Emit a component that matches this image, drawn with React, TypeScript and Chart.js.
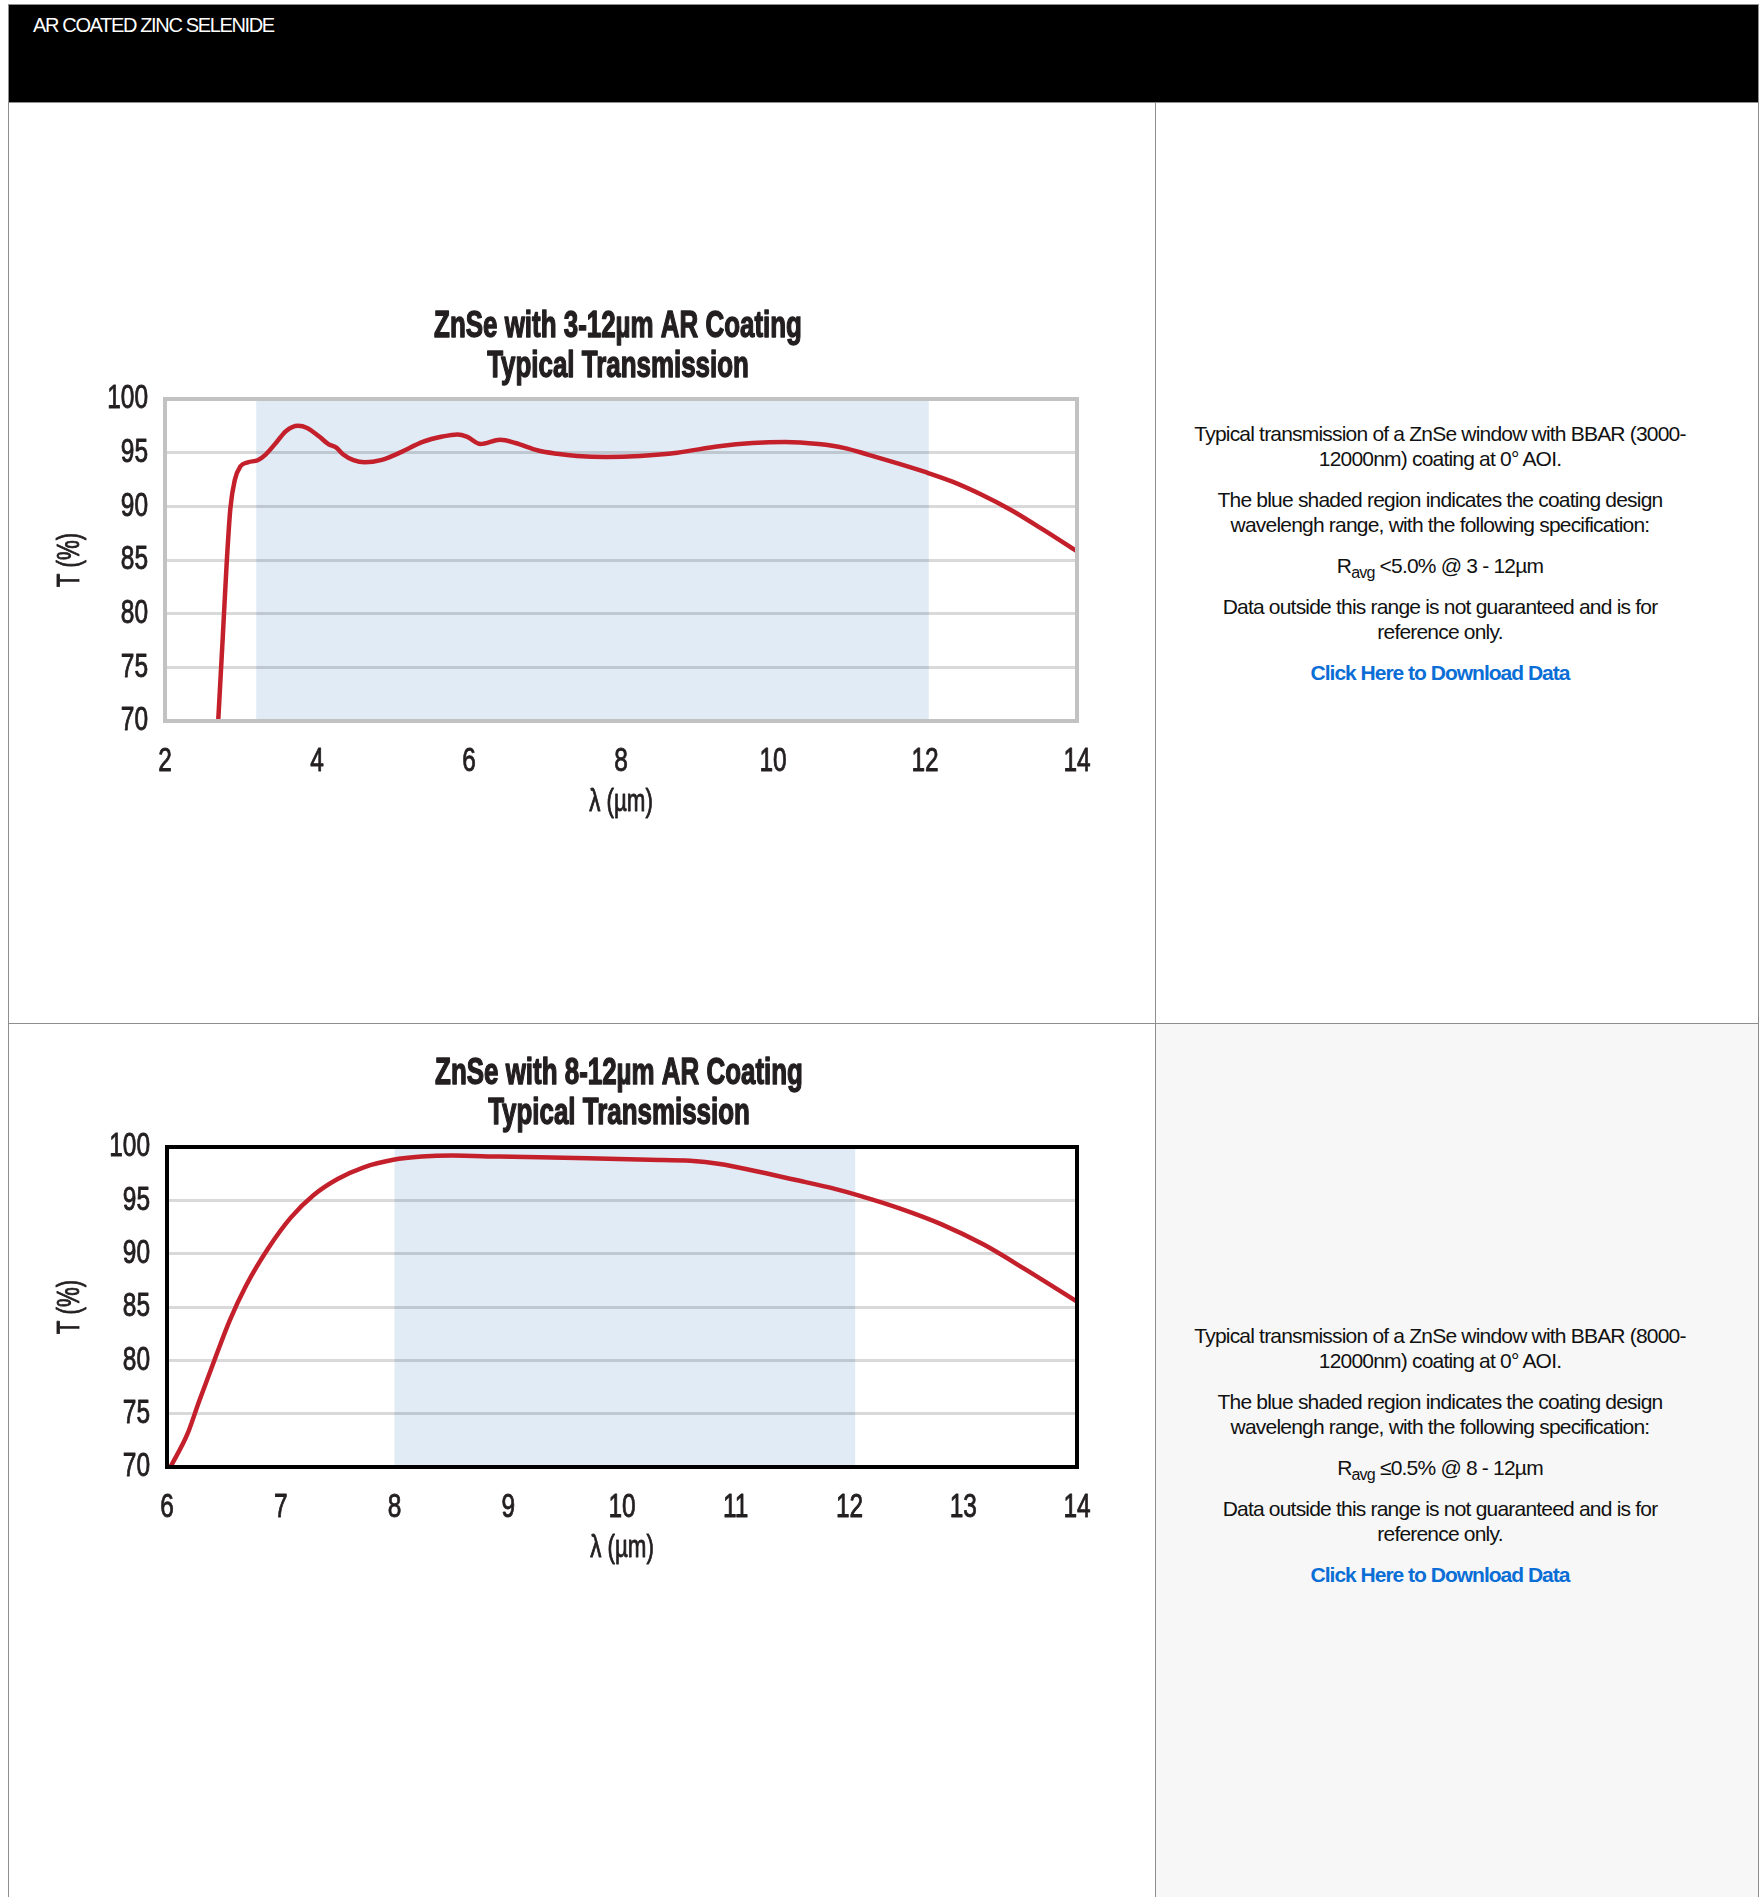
import React, { useEffect, useRef } from "react";
import { Chart, registerables } from "chart.js";

Chart.register(...registerables);

// ---------- data ----------
const pageTitle = "AR COATED ZINC SELENIDE";

const chart1Title = ["ZnSe with 3-12\u00b5m AR Coating", "Typical Transmission"];
const chart1Wavelength = [2.70, 2.76, 2.81, 2.86, 2.92, 2.99, 3.09, 3.22, 3.32, 3.47, 3.59, 3.75, 3.87, 4.03, 4.15, 4.25, 4.35, 4.48, 4.63, 4.84, 5.09, 5.39, 5.65, 5.85, 5.97, 6.15, 6.41, 6.61, 6.91, 7.16, 7.42, 7.81, 8.25, 8.74, 9.29, 9.73, 10.16, 10.6, 10.93, 11.26, 11.64, 12.0, 12.36, 12.74, 13.12, 13.56, 14.0];
const chart1Transmission = [70, 77.8, 84.5, 89.8, 92.5, 93.7, 94.1, 94.3, 94.8, 96.0, 97.0, 97.5, 97.3, 96.5, 95.8, 95.5, 94.8, 94.3, 94.1, 94.3, 95.0, 96.0, 96.5, 96.7, 96.5, 95.8, 96.2, 95.9, 95.2, 94.9, 94.7, 94.6, 94.7, 95.0, 95.6, 95.9, 96.0, 95.8, 95.45, 94.8, 94.0, 93.2, 92.3, 91.1, 89.7, 87.8, 85.8];
const chart1XTicks = [2, 4, 6, 8, 10, 12, 14];
const chart1Band = [3.2, 12.05];

const chart2Title = ["ZnSe with 8-12\u00b5m AR Coating", "Typical Transmission"];
const chart2Wavelength = [6.03, 6.18, 6.28, 6.42, 6.55, 6.69, 6.89, 7.09, 7.29, 7.50, 7.73, 7.99, 8.24, 8.51, 8.92, 9.7, 10.24, 10.6, 10.86, 11.15, 11.51, 11.88, 12.1, 12.44, 12.81, 13.18, 13.55, 14.0];
const chart2Transmission = [70, 73.1, 76.1, 80.1, 83.7, 86.9, 90.5, 93.4, 95.5, 97.0, 98.1, 98.8, 99.1, 99.2, 99.1, 98.95, 98.8, 98.7, 98.4, 97.8, 96.95, 96.05, 95.4, 94.25, 92.75, 90.85, 88.5, 85.5];
const chart2XTicks = [6, 7, 8, 9, 10, 11, 12, 13, 14];
const chart2Band = [8.0, 12.05];

const yTicks = [70, 75, 80, 85, 90, 95, 100];
const xAxisTitle = "\u03bb (\u00b5m)";
const yAxisTitle = "T (%)";

const panel1Lines = [
  ["Typical transmission of a ZnSe window with BBAR (3000-", "12000nm) coating at 0\u00b0 AOI."],
  ["The blue shaded region indicates the coating design", "wavelengh range, with the following specification:"],
];
const panel1Spec = "<5.0% @ 3 - 12\u00b5m";
const panel2Lines = [
  ["Typical transmission of a ZnSe window with BBAR (8000-", "12000nm) coating at 0\u00b0 AOI."],
  ["The blue shaded region indicates the coating design", "wavelengh range, with the following specification:"],
];
const panel2Spec = "\u22640.5% @ 8 - 12\u00b5m";
const disclaimerLines = ["Data outside this range is not guaranteed and is for", "reference only."];
const linkText = "Click Here to Download Data";

// ---------- styling ----------
const CHART_FONT = '"Liberation Sans", Arial, sans-serif';
const TEXT_SCALE_X = 0.72; // condensed look (no condensed face installed)
const INK = "#231f20";

type Cfg = {
  top: number;
  xs: number[];
  ys: number[];
  xMin: number;
  xMax: number;
  xTicks: number[];
  band: number[];
  title: string[];
  titleOffsets: number[];
  frameColor: string;
  pad: { left: number; right: number; top: number; bottom: number };
  yAxisWidth: number;
};

// draw all canvas text horizontally condensed, with a light stroke for a medium weight
function condenseText(ctx: CanvasRenderingContext2D) {
  const origFill = ctx.fillText.bind(ctx);
  const origStroke = ctx.strokeText.bind(ctx);
  (ctx as any).__embolden = 0.9;
  (ctx as any).fillText = (text: string, x: number, y: number, maxWidth?: number) => {
    const emb = (ctx as any).__embolden || 0;
    ctx.save();
    ctx.translate(x, y);
    ctx.scale(TEXT_SCALE_X, 1);
    const mw = maxWidth === undefined ? undefined : maxWidth / TEXT_SCALE_X;
    if (mw === undefined) origFill(text, 0, 0);
    else origFill(text, 0, 0, mw);
    if (emb > 0) {
      ctx.strokeStyle = ctx.fillStyle as any;
      ctx.lineWidth = emb;
      ctx.lineJoin = "round";
      if (mw === undefined) origStroke(text, 0, 0);
      else origStroke(text, 0, 0, mw);
    }
    ctx.restore();
  };
}

const decorPlugin = {
  id: "decor",
  beforeDraw(chart: any, _args: any, opts: any) {
    const { ctx, chartArea: a, scales } = chart;
    const x = scales.x;
    const x0 = x.getPixelForValue(opts.band[0]);
    const x1 = x.getPixelForValue(opts.band[1]);
    ctx.save();
    ctx.fillStyle = "#e1ebf6";
    ctx.fillRect(x0, a.top, x1 - x0, a.bottom - a.top);
    ctx.restore();
  },
  afterDraw(chart: any, _args: any, opts: any) {
    const { ctx, chartArea: a } = chart;
    ctx.save();
    ctx.strokeStyle = opts.frameColor;
    ctx.lineWidth = opts.frameWidth;
    ctx.strokeRect(a.left, a.top, a.right - a.left, a.bottom - a.top);
    ctx.fillStyle = INK;
    ctx.font = `bold 36px ${CHART_FONT}`;
    ctx.textAlign = "center";
    ctx.textBaseline = "middle";
    const prev = ctx.__embolden;
    ctx.__embolden = 1.4;
    const cx = (a.left + a.right) / 2 + opts.titleDx;
    opts.title.forEach((t: string, i: number) => {
      ctx.fillText(t, cx, a.top + opts.titleOffsets[i]);
    });
    ctx.__embolden = prev;
    ctx.restore();
  },
};

function TransmissionChart({ cfg }: { cfg: Cfg }) {
  const ref = useRef<HTMLCanvasElement | null>(null);
  useEffect(() => {
    if (!ref.current) return;
    const ctx = ref.current.getContext("2d");
    if (ctx) condenseText(ctx);
    const chart = new Chart(ref.current, {
      type: "line",
      data: {
        datasets: [
          {
            data: cfg.xs.map((x, i) => ({ x, y: cfg.ys[i] })),
            borderColor: "#c4202b",
            borderWidth: 4.5,
            pointRadius: 0,
            fill: false,
            cubicInterpolationMode: "monotone",
          },
        ],
      },
      options: {
        animation: false,
        responsive: false,
        devicePixelRatio: 1,
        layout: { padding: cfg.pad },
        plugins: {
          legend: { display: false },
          tooltip: { enabled: false },
          decor: {
            band: cfg.band,
            frameColor: cfg.frameColor,
            frameWidth: 4,
            title: cfg.title,
            titleOffsets: cfg.titleOffsets,
            titleDx: -3,
          },
        } as any,
        scales: {
          x: {
            type: "linear",
            min: cfg.xMin,
            max: cfg.xMax,
            afterBuildTicks: (s: any) => {
              s.ticks = cfg.xTicks.map((v) => ({ value: v }));
            },
            afterFit: (s: any) => {
              s.height = 100;
            },
            grid: { display: false, drawTicks: false },
            border: { display: false },
            ticks: {
              color: INK,
              font: { family: CHART_FONT, size: 34 },
              padding: 20,
              maxRotation: 0,
              autoSkip: false,
            },
            title: {
              display: true,
              text: xAxisTitle,
              color: INK,
              font: { family: CHART_FONT, size: 31 },
              padding: 0,
            },
          },
          y: {
            type: "linear",
            min: 70,
            max: 100,
            afterBuildTicks: (s: any) => {
              s.ticks = yTicks.map((v) => ({ value: v }));
            },
            afterFit: (s: any) => {
              s.width = cfg.yAxisWidth;
            },
            grid: { color: "rgba(0,0,0,0.15)", lineWidth: 3, drawTicks: false },
            border: { display: false },
            ticks: {
              color: INK,
              font: { family: CHART_FONT, size: 34 },
              padding: 17,
              autoSkip: false,
            },
            title: {
              display: true,
              text: yAxisTitle,
              color: INK,
              font: { family: CHART_FONT, size: 31 },
              padding: 0,
            },
          },
        },
      },
      plugins: [decorPlugin as any],
    } as any);
    return () => chart.destroy();
  }, [cfg]);
  return (
    <canvas
      ref={ref}
      width={1140}
      height={600}
      style={{ position: "absolute", left: 8, top: cfg.top, width: 1140, height: 600 }}
    />
  );
}

const cfg1: Cfg = {
  top: 250,
  xs: chart1Wavelength,
  ys: chart1Transmission,
  xMin: 2,
  xMax: 14,
  xTicks: chart1XTicks,
  band: chart1Band,
  title: chart1Title,
  titleOffsets: [-72, -32],
  frameColor: "#c2c2c2",
  pad: { left: 44, right: 71, top: 149, bottom: 29 },
  yAxisWidth: 113,
};

const cfg2: Cfg = {
  top: 1030,
  xs: chart2Wavelength,
  ys: chart2Transmission,
  xMin: 6,
  xMax: 14,
  xTicks: chart2XTicks,
  band: chart2Band,
  title: chart2Title,
  titleOffsets: [-73, -33],
  frameColor: "#000000",
  pad: { left: 44, right: 71, top: 117, bottom: 63 },
  yAxisWidth: 115,
};

const textStyle: React.CSSProperties = {
  fontFamily: '"Liberation Sans", Arial, sans-serif',
  fontSize: 21,
  letterSpacing: -0.8,
  lineHeight: "25px",
  color: "#111",
  textAlign: "center",
  whiteSpace: "nowrap",
};

function Panel({ top, lines, spec }: { top: number; lines: string[][]; spec: string }) {
  const p: React.CSSProperties = { margin: "0 0 16px 0" };
  return (
    <div style={{ ...textStyle, position: "absolute", left: 1190, width: 500, top }}>
      {lines.map((para, i) => (
        <div key={i} style={p}>
          {para.map((l, j) => (
            <div key={j}>{l}</div>
          ))}
        </div>
      ))}
      <div style={p}>
        R<sub style={{ fontSize: 16, verticalAlign: "-5px", lineHeight: 0 }}>avg</sub> {spec}
      </div>
      <div style={p}>
        {disclaimerLines.map((l, j) => (
          <div key={j}>{l}</div>
        ))}
      </div>
      <div style={{ ...p, color: "#0a6ed6", fontWeight: "bold", letterSpacing: -1 }}>{linkText}</div>
    </div>
  );
}

export default function App() {
  const line = "#8e8e8e";
  return (
    <div style={{ position: "relative", width: 1760, height: 1897, background: "#fff", overflow: "hidden" }}>
      <style>{`body{margin:0}`}</style>
      {/* row 2 right cell background */}
      <div style={{ position: "absolute", left: 1156, top: 1024, width: 602, height: 900, background: "#f7f7f7" }} />
      {/* header */}
      <div style={{ position: "absolute", left: 8, top: 4, width: 1751, height: 98, background: "#000", borderTop: `1px solid ${line}` }} />
      <div
        style={{
          position: "absolute",
          left: 33,
          top: 15,
          fontFamily: '"Liberation Sans", Arial, sans-serif',
          fontSize: 20,
          lineHeight: "21px",
          letterSpacing: -1.35,
          color: "#fff",
          whiteSpace: "nowrap",
        }}
      >
        {pageTitle}
      </div>
      {/* grid lines */}
      <div style={{ position: "absolute", left: 8, top: 4, width: 1, height: 1900, background: line }} />
      <div style={{ position: "absolute", left: 1758, top: 4, width: 1, height: 1900, background: line }} />
      <div style={{ position: "absolute", left: 8, top: 102, width: 1751, height: 1, background: line }} />
      <div style={{ position: "absolute", left: 8, top: 1023, width: 1751, height: 1, background: line }} />
      <div style={{ position: "absolute", left: 1155, top: 102, width: 1, height: 1800, background: line }} />

      <TransmissionChart cfg={cfg1} />
      <TransmissionChart cfg={cfg2} />

      <Panel top={421} lines={panel1Lines} spec={panel1Spec} />
      <Panel top={1323} lines={panel2Lines} spec={panel2Spec} />
    </div>
  );
}
